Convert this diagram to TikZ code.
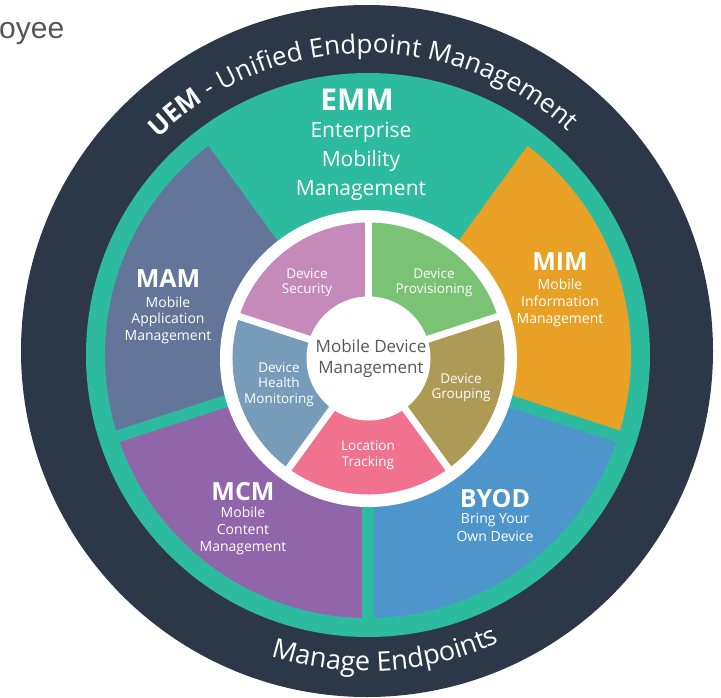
\documentclass[tikz,border=0pt]{standalone}
\usepackage{fontspec}
\setmainfont{Open Sans}
\newfontfamily\arialf{Liberation Sans}
\usetikzlibrary{decorations.text}
\definecolor{navy}{HTML}{2C3848}
\definecolor{tealc}{HTML}{2CBB9E}
\definecolor{mamc}{HTML}{64759A}
\definecolor{mimc}{HTML}{E9A125}
\definecolor{byodc}{HTML}{4E95CB}
\definecolor{mcmc}{HTML}{9165A9}
\definecolor{secc}{HTML}{C589BA}
\definecolor{provc}{HTML}{7BC374}
\definecolor{grpc}{HTML}{AC9A55}
\definecolor{locc}{HTML}{F0728E}
\definecolor{hlthc}{HTML}{769CBA}
\definecolor{mdmtext}{HTML}{585858}
\definecolor{graytext}{HTML}{555555}
\begin{document}
\begin{tikzpicture}[x=1pt,y=1pt,
  seg/.style={text=white, inner sep=0pt, anchor=base},
  ttl/.style={seg, font=\fontsize{25}{25}\selectfont\bfseries},
  sub/.style={seg, font=\fontsize{14}{14}\selectfont},
  inn/.style={seg, font=\fontsize{13.5}{13.5}\selectfont},
  emmsub/.style={seg, font=\fontsize{21}{21}\selectfont},
  ctr/.style={inner sep=0pt, anchor=base, text=mdmtext, font=\fontsize{17}{17}\selectfont},
  gapouter/.style={tealc, line width=12pt},
  gapinner/.style={white, line width=7pt}
]
\useasboundingbox (0,0) rectangle (721,-697);
\fill[white] (0,0) rectangle (721,-697);
\coordinate (D) at (367,-351);
\coordinate (C) at (368,-355);
\coordinate (W) at (368.5,-358.5);

% rings
\fill[navy] (D) circle[radius=346];
\fill[tealc] (C) circle[radius=282];

% outer sectors
\fill[mimc] (C) -- ([shift={(C)}]-18:263) arc[start angle=-18, end angle=54, radius=263] -- cycle;
\fill[byodc] (C) -- ([shift={(C)}]-90:263) arc[start angle=-90, end angle=-18, radius=263] -- cycle;
\fill[mcmc] (C) -- ([shift={(C)}]-162:263) arc[start angle=-162, end angle=-90, radius=263] -- cycle;
\fill[mamc] (C) -- ([shift={(C)}]126:263) arc[start angle=126, end angle=198, radius=263] -- cycle;
\foreach \a/\n in {54/ga,126/gb,198/gc,270/gd,342/ge}{
  \coordinate (\n) at ([shift={(C)}]\a:272);
  \draw[gapouter] (C) -- (\n);
}

% white ring
\fill[white] (W) circle[radius=148.5];

% inner sectors
\fill[secc] (W) -- ([shift={(W)}]90:136) arc[start angle=90, end angle=162, radius=136] -- cycle;
\fill[provc] (W) -- ([shift={(W)}]18:136) arc[start angle=18, end angle=90, radius=136] -- cycle;
\fill[grpc] (W) -- ([shift={(W)}]-54:136) arc[start angle=-54, end angle=18, radius=136] -- cycle;
\fill[locc] (W) -- ([shift={(W)}]-126:136) arc[start angle=-126, end angle=-54, radius=136] -- cycle;
\fill[hlthc] (W) -- ([shift={(W)}]162:136) arc[start angle=162, end angle=234, radius=136] -- cycle;
\foreach \a/\n in {90/ia,18/ib,-54/ic,-126/id,162/ie}{
  \coordinate (\n) at ([shift={(W)}]\a:142);
  \draw[gapinner] (W) -- (\n);
}
\fill[white] (W) circle[radius=62];

% curved texts
\path[decorate, decoration={text along path, text align=center, text color=white,
  text={|\fontsize{26}{26}\selectfont\bfseries|UEM|\fontsize{26}{26}\selectfont| - Unified Endpoint Management}}]
  ([shift={(D)}]181:298) arc[start angle=181, end angle=1, radius=298];
\path[decorate, decoration={text along path, text align=center, text color=white,
  text={|\fontsize{27}{27}\selectfont|Manage Endpoints}}]
  ([shift={(D)}]201.5:320) arc[start angle=201.5, end angle=345.5, radius=320];

% EMM
\node[seg, font=\fontsize{30}{30}\selectfont\bfseries] (emm) at (357,-110) {EMM};
\node[emmsub] (emm1) at (361,-137) {Enterprise};
\node[emmsub] (emm2) at (361,-166) {Mobility};
\node[emmsub] (emm3) at (361,-195) {Management};

% MAM
\node[ttl] (mam) at (168,-287) {MAM};
\node[sub] (mam1) at (168,-307) {Mobile};
\node[sub] (mam2) at (168,-323.5) {Application};
\node[sub] (mam3) at (168,-340) {Management};

% MIM
\node[ttl] (mim) at (560,-270) {MIM};
\node[sub] (mim1) at (560,-289) {Mobile};
\node[sub] (mim2) at (560,-306) {Information};
\node[sub] (mim3) at (560,-323) {Management};

% MCM
\node[ttl] (mcm) at (243,-500) {MCM};
\node[sub] (mcm1) at (243,-517) {Mobile};
\node[sub] (mcm2) at (243,-534) {Content};
\node[sub] (mcm3) at (243,-551) {Management};

% BYOD
\node[ttl] (byod) at (495,-507) {BYOD};
\node[sub] (byod1) at (495,-523) {Bring Your};
\node[sub] (byod2) at (495,-541) {Own Device};

% inner texts
\node[inn] (sec1) at (307,-278) {Device};
\node[inn] (sec2) at (307,-293) {Security};
\node[inn] (prov1) at (434,-278) {Device};
\node[inn] (prov2) at (434,-293) {Provisioning};
\node[inn] (grp1) at (461,-383) {Device};
\node[inn] (grp2) at (461,-398) {Grouping};
\node[inn] (loc1) at (368,-450) {Location};
\node[inn] (loc2) at (368,-466) {Tracking};
\node[inn] (hl1) at (279,-372) {Device};
\node[inn] (hl2) at (279,-387) {Health};
\node[inn] (hl3) at (279,-403) {Monitoring};

% center
\node[ctr] (mdm1) at (371,-352) {Mobile Device};
\node[ctr] (mdm2) at (371,-373) {Management};

% clipped heading text
\node[inner sep=0pt, anchor=base west, text=graytext, font=\arialf\fontsize{30}{30}\selectfont] (oyee) at (-1,-38) {oyee};
\end{tikzpicture}
\end{document}
